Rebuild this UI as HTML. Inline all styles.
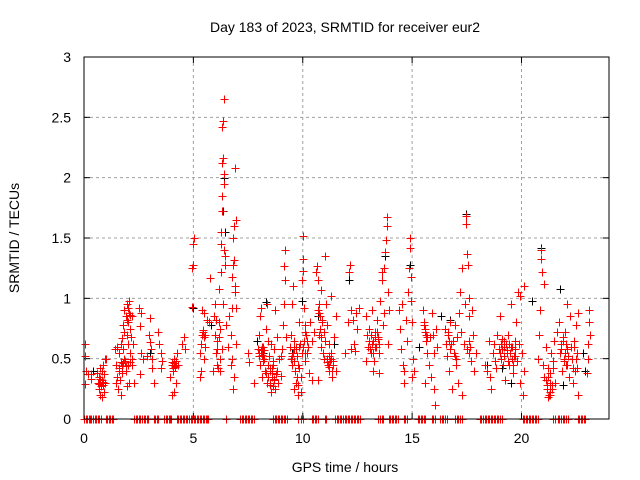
<!DOCTYPE html>
<html><head><meta charset="utf-8"><style>
html,body{margin:0;padding:0;background:#fff;}
svg{display:block;font-family:"Liberation Sans",sans-serif;}
</style></head><body>
<svg id="chart" width="640" height="480" viewBox="0 0 640 480">
<rect width="640" height="480" fill="#fff"/>
<text x="345" y="32" text-anchor="middle" font-size="14" fill="#000">Day 183 of 2023, SRMTID for receiver eur2</text>
<text x="345" y="472" text-anchor="middle" font-size="14" fill="#000">GPS time / hours</text>
<text transform="translate(19,238) rotate(-90)" text-anchor="middle" font-size="14" fill="#000">SRMTID / TECUs</text>
<g id="grid"></g>
<g id="ticks"></g>
<g id="black"></g>
<g id="red"></g>
<rect x="84" y="57" width="525" height="362" fill="none" stroke="#000" stroke-width="1"/>
</svg>
<script>
const xTicks=[0,5,10,15,20];
const yTicks=[0,0.5,1,1.5,2,2.5,3];
const yTickLabels=["0","0.5","1","1.5","2","2.5","3"];
const redT=[0.05,0.05,0.1,0.05,0.2,0.3,0.3,0.6,0.65,0.7,0.7,0.75,0.75,0.8,0.8,0.85,0.85,0.9,0.9,0.95,0.95,1.0,0.7,0.8,
1.4,1.45,1.45,1.5,1.5,1.55,1.6,1.6,1.65,1.7,1.7,1.75,1.75,1.8,1.8,1.85,1.85,1.9,1.9,1.95,1.95,1.95,2.0,2.0,2.0,2.05,2.05,2.05,2.1,2.1,2.15,2.2,2.2,2.25,2.3,
2.5,2.55,2.55,2.6,2.6,2.7,2.9,2.95,3.0,3.0,3.05,3.1,3.1,3.2,3.4,3.45,3.5,3.5,3.55,
3.95,4.0,4.0,4.05,4.1,4.1,4.15,4.2,4.25,4.3,4.2,
4.5,4.55,4.6,4.95,4.95,5.0,5.0,5.05,
5.3,5.35,5.3,5.35,5.4,5.45,5.5,5.5,5.55,5.6,5.7,5.75,5.4,
5.9,5.95,6.0,6.0,6.05,6.1,6.1,6.15,6.15,6.2,6.2,6.25,6.25,6.25,6.3,6.3,6.3,6.3,6.35,6.35,6.4,6.4,6.4,6.4,6.45,6.45,6.5,6.3,6.35,
6.6,6.65,6.7,6.7,6.75,6.75,6.8,6.8,6.85,6.85,6.85,6.9,6.9,6.9,6.95,6.95,6.95,6.8,6.75,
7.5,7.55,7.75,
7.95,8.0,8.0,8.05,8.05,8.1,8.1,8.15,8.15,8.2,8.25,8.3,8.3,8.35,8.35,8.4,8.4,8.45,8.5,8.5,8.55,8.55,8.6,8.65,8.7,8.7,8.75,8.8,8.8,8.85,8.9,9.0,9.05,9.1,9.15,9.15,9.2,9.2,9.25,9.0,
9.4,9.45,9.45,9.5,9.5,9.55,9.55,9.6,9.6,9.65,9.7,9.7,9.75,9.8,9.8,9.85,9.85,9.9,9.9,9.95,9.95,10.0,10.0,10.0,10.05,10.05,10.1,10.1,10.15,10.2,10.25,10.3,10.35,10.4,10.4,10.5,
10.6,10.65,10.7,10.7,10.75,10.75,10.8,10.85,10.85,10.9,10.95,11.0,11.0,11.05,11.1,11.1,11.15,11.2,11.2,11.25,11.3,11.35,11.4,11.45,11.5,11.5,10.7,11.3,
11.95,12.05,12.1,12.15,12.2,12.3,12.35,12.4,12.5,12.55,12.45,12.2,
12.9,12.95,13.0,13.05,13.1,13.15,13.2,13.25,13.3,13.35,13.4,13.45,13.5,13.55,13.6,13.65,13.7,13.75,13.8,13.85,13.85,13.9,13.95,13.9,13.5,13.2,13.6,13.7,12.9,
14.4,14.45,14.5,14.55,14.6,14.65,14.7,14.75,14.8,14.85,14.9,14.9,14.95,15.0,15.0,15.05,15.1,14.65,14.95,
15.5,15.55,15.6,15.65,15.7,15.75,15.8,15.85,15.9,15.95,16.0,16.05,16.0,16.1,16.15,15.6,
16.5,16.55,16.6,16.65,16.7,16.75,16.8,16.85,16.9,16.95,17.0,17.05,17.1,17.15,17.2,17.25,17.3,17.35,17.4,17.45,17.45,17.5,17.55,17.6,17.6,17.65,17.7,17.75,17.8,17.85,17.9,17.3,
18.35,18.4,18.5,18.55,18.6,18.7,18.75,18.8,18.85,18.9,18.95,19.0,19.05,19.1,19.15,19.2,19.25,
19.3,19.35,19.4,19.45,19.5,19.55,19.6,19.65,19.7,19.75,19.8,19.85,19.9,19.95,20.0,20.05,20.1,20.1,19.95,
20.75,20.8,20.85,20.9,20.9,20.95,21.0,21.05,21.1,21.15,21.2,21.25,21.3,21.35,21.4,21.45,21.5,21.55,21.6,21.05,21.3,
21.7,21.75,21.8,21.85,21.9,21.95,22.0,22.05,22.1,22.15,22.2,22.25,22.3,22.35,22.4,22.45,22.5,22.55,22.6,22.6,22.35,22.1,
23.05,23.05,23.1,23.1,23.15,23.0,
0.72,0.78,0.88,1.62,1.72,1.78,1.88,1.92,1.98,2.02,2.08,2.12,2.18,1.68,1.82,
4.08,4.12,4.18,4.02,5.42,5.48,5.52,6.08,6.12,6.18,6.22,6.02,
8.02,8.08,8.12,8.18,8.22,8.28,8.42,8.48,8.52,8.58,8.62,8.68,8.72,8.78,8.58,8.62,
9.52,9.58,9.62,9.68,9.72,9.78,9.82,9.88,10.02,10.08,10.12,10.18,
10.72,10.78,10.82,10.88,10.92,10.98,11.12,11.18,11.22,11.28,11.32,11.38,
13.02,13.08,13.12,13.18,13.22,13.28,13.32,13.38,13.42,13.48,
15.52,15.58,15.62,15.68,16.62,16.68,16.72,16.78,16.98,17.02,17.52,17.58,17.62,
19.02,19.08,19.12,19.18,19.22,19.32,19.38,19.42,19.48,19.52,19.58,19.62,19.68,19.72,
21.12,21.18,21.22,21.28,21.32,21.38,21.42,21.22,21.28,21.32,
21.82,21.88,21.92,21.98,22.02,22.08,22.12,22.42,22.48,22.52];
const redV=[0.62,0.52,0.40,0.29,0.37,0.33,0.37,0.38,0.30,0.35,0.25,0.20,0.42,0.32,0.18,0.28,0.45,0.37,0.22,0.50,0.30,0.50,0.29,0.40,
0.58,0.45,0.30,0.35,0.60,0.25,0.40,0.55,0.32,0.47,0.20,0.67,0.44,0.78,0.58,0.90,0.50,0.85,0.40,0.95,0.70,0.27,0.80,0.62,0.45,0.98,0.88,0.30,0.75,0.55,0.68,0.85,0.50,0.62,0.30,
0.92,0.77,0.37,0.55,0.88,0.50,0.52,0.70,0.84,0.64,0.58,0.42,0.50,0.30,0.72,0.62,0.55,0.42,0.48,
0.35,0.45,0.20,0.40,0.50,0.22,0.43,0.48,0.55,0.45,0.30,
0.62,0.68,0.58,0.93,1.25,1.45,1.28,1.50,
0.35,0.40,0.55,0.62,0.70,0.72,0.88,0.50,0.60,0.82,0.80,1.17,0.90,
0.40,0.85,0.95,0.70,0.55,0.45,0.65,0.80,1.08,0.75,0.50,1.22,1.55,1.45,1.72,1.85,2.12,2.42,2.47,2.16,1.95,2.03,2.65,1.40,1.35,1.28,0.78,0.58,0.95,
0.60,0.85,0.70,0.45,0.50,0.92,1.50,1.28,1.32,1.60,0.35,2.08,1.10,1.05,0.92,1.65,0.62,0.25,1.18,
0.55,0.47,0.30,
0.58,0.52,0.70,0.85,0.45,0.55,0.92,0.60,0.35,0.48,0.57,0.75,0.38,0.95,0.30,0.65,0.45,0.52,0.28,0.40,0.62,0.22,0.35,0.45,0.32,0.58,0.90,0.40,0.68,0.30,0.50,0.52,0.58,0.78,0.95,1.27,1.40,1.15,0.68,0.36,
0.60,0.50,0.70,0.95,0.45,1.10,0.55,0.65,0.25,0.40,0.58,0.30,0.52,0.20,0.45,0.80,0.60,0.35,0.22,0.55,1.15,1.23,1.33,1.52,0.92,0.65,0.78,0.48,0.70,0.55,0.60,0.38,0.80,0.65,0.32,0.72,
1.22,1.27,1.15,0.90,0.95,0.70,0.85,1.07,0.60,0.80,0.72,0.65,1.35,0.95,0.50,0.78,0.45,0.40,0.62,0.48,0.55,0.35,0.45,0.68,0.85,0.40,0.32,1.02,
0.55,0.80,1.22,1.28,0.90,0.82,0.62,0.56,0.75,0.92,0.88,0.58,
0.85,0.70,0.60,0.75,0.55,0.90,0.65,0.48,0.72,0.60,0.82,0.68,0.55,0.98,1.15,0.78,0.88,1.38,1.48,1.67,1.60,1.05,0.90,0.62,0.38,0.40,1.22,1.25,0.48,
0.90,0.75,0.58,0.95,0.45,0.30,0.82,0.65,1.05,1.25,1.50,1.42,1.18,0.80,0.35,0.50,0.40,0.40,0.98,
0.90,0.80,0.72,0.65,0.55,0.45,0.68,0.35,0.88,0.70,0.25,0.12,0.55,0.75,0.60,0.30,
0.75,0.62,0.52,0.70,0.40,0.80,0.25,0.65,0.55,0.78,0.45,0.68,0.30,0.88,1.05,0.72,1.25,0.62,0.95,1.62,1.68,1.37,1.28,1.00,0.85,0.60,0.48,0.90,0.70,0.40,0.55,0.20,
0.45,0.40,0.65,0.35,0.25,0.55,0.62,0.48,0.42,0.70,0.58,0.85,0.50,0.66,0.45,0.60,0.32,
0.62,0.55,0.70,0.45,0.95,0.60,0.38,0.52,0.65,0.80,0.48,1.05,0.62,0.30,0.55,0.20,0.40,1.10,1.02,
0.50,0.70,0.90,1.40,1.33,1.22,0.45,0.35,0.60,0.28,0.42,0.20,0.38,0.55,0.25,0.48,0.65,0.30,0.72,1.12,0.20,
0.80,0.55,0.62,0.40,0.68,0.50,0.72,0.45,0.58,0.35,0.85,0.60,0.50,0.30,0.65,0.40,0.78,0.55,0.88,0.20,0.42,0.95,
0.62,0.50,0.80,0.90,0.70,0.38,
0.33,0.27,0.31,0.42,0.38,0.46,0.48,0.44,0.82,0.92,0.86,0.47,0.45,0.62,0.72,
0.42,0.46,0.44,0.47,0.74,0.68,0.70,0.58,0.42,0.68,0.40,0.82,
0.55,0.57,0.53,0.60,0.50,0.40,0.35,0.42,0.30,0.38,0.27,0.33,0.25,0.37,0.42,0.48,
0.52,0.58,0.48,0.60,0.35,0.28,0.42,0.62,0.60,0.55,0.72,0.65,
0.88,0.75,0.68,0.82,0.55,0.50,0.47,0.52,0.43,0.50,0.40,0.48,
0.65,0.58,0.70,0.62,0.55,0.68,0.60,0.72,0.66,0.62,
0.78,0.75,0.70,0.68,0.72,0.65,0.58,0.62,0.52,0.50,0.58,0.65,0.55,
0.55,0.62,0.58,0.52,0.65,0.57,0.48,0.62,0.55,0.60,0.50,0.45,0.58,0.52,
0.32,0.25,0.35,0.22,0.30,0.28,0.42,0.18,0.25,0.20,
0.58,0.65,0.48,0.55,0.62,0.45,0.52,0.60,0.50,0.42];
const zeroT=[0.0,0.07,0.14,0.21,0.28,0.34,0.42,0.49,0.56,0.63,0.7,0.76,1.0,1.07,1.14,1.2,1.27,1.34,
2.3,2.37,2.44,2.51,2.58,2.64,2.72,2.8,2.88,2.94,3.18,3.25,3.33,3.4,3.66,3.73,3.8,3.87,3.93,3.99,
4.24,4.31,4.38,4.45,4.52,4.59,4.66,4.73,4.8,4.87,4.94,5.01,5.08,5.15,5.22,5.29,5.36,5.43,5.5,5.57,5.64,5.69,
6.49,7.13,7.2,7.27,7.34,7.41,7.48,7.55,7.62,7.7,7.77,8.65,8.72,8.79,8.86,8.93,9.0,9.07,9.14,9.2,9.26,
9.8,9.9,10.0,10.41,10.48,10.55,10.62,10.71,11.0,11.05,11.48,11.55,11.62,11.7,11.77,11.84,11.91,11.98,12.05,12.12,12.19,12.26,12.33,12.4,12.47,12.54,12.62,
13.46,13.53,13.6,13.69,13.92,13.99,14.06,14.13,14.2,14.27,14.37,14.63,14.69,14.75,15.26,15.33,15.4,15.47,15.54,15.6,15.9,15.97,16.05,16.28,16.35,16.42,16.5,16.58,
16.96,17.03,17.1,17.17,17.27,18.1,18.17,18.24,18.31,18.38,18.45,18.52,18.59,18.66,18.73,18.8,18.87,18.94,19.01,19.1,
20.05,20.12,20.19,20.26,20.33,20.4,20.47,20.54,20.61,20.68,20.77,21.46,21.55,21.65,21.72,21.8,21.88,21.95,22.05,22.14,22.56,22.63,22.7,22.77,22.84,22.91];
const blackT=[6.4,6.35,6.45,17.45,20.9,14.9,9.95,10.7,8.3,9.5,11.45,12.1,13.75,16.3,18.4,19.5,20.5,21.75,22.8,22.9,5.0,5.8,0.4,7.9,8.2,19.1,21.9,16.75,15.3,3.0];
const blackV=[2.0,1.72,1.55,1.70,1.42,1.28,0.98,0.85,0.97,0.55,0.62,1.15,1.35,0.85,0.45,0.30,0.98,1.08,0.55,0.40,0.92,0.78,0.40,0.65,0.55,0.42,0.28,0.82,0.60,0.55];

const X0=84,X1=609,Y0=419,Y1=57,XMAX=24,YMAX=3;
function sx(t){return X0+(X1-X0)*t/XMAX;}
function sy(v){return Y0-(Y0-Y1)*v/YMAX;}
const NS="http://www.w3.org/2000/svg";
function mk(tag,attrs,parent){const e=document.createElementNS(NS,tag);for(const k in attrs)e.setAttribute(k,attrs[k]);parent.appendChild(e);return e;}
const grid=document.getElementById('grid'),ticks=document.getElementById('ticks');
xTicks.forEach((t,i)=>{
  const x=sx(t);
  if(t>0){const g=mk('line',{x1:x,x2:x,y1:Y1,y2:Y0,stroke:'#a0a0a0','stroke-dasharray':'3,3'},grid);
  
  }
  mk('line',{x1:x,x2:x,y1:Y0,y2:Y0-6,stroke:'#000'},ticks);
  mk('line',{x1:x,x2:x,y1:Y1,y2:Y1+6,stroke:'#000'},ticks);
  const l=mk('text',{x:x,y:443,'text-anchor':'middle','font-size':'14',fill:'#000'},ticks);
  l.textContent=String(t);
  
  
});
yTicks.forEach((v,i)=>{
  const y=sy(v);
  if(v>0&&v<YMAX){const g=mk('line',{x1:X0,x2:X1,y1:y,y2:y,stroke:'#a0a0a0','stroke-dasharray':'3,3'},grid);
  
  }
  mk('line',{x1:X0,x2:X0+6,y1:y,y2:y,stroke:'#000'},ticks);
  mk('line',{x1:X1,x2:X1-6,y1:y,y2:y,stroke:'#000'},ticks);
  const l=mk('text',{x:71,y:y+5,'text-anchor':'end','font-size':'14',fill:'#000'},ticks);
  l.textContent=yTickLabels[i];
  
  
});
function plus(g,t,v,color){
  const x=Math.round(sx(t))+0.5,y=Math.round(sy(v))+0.5;
  const p=mk('path',{d:`M${x-4},${y}H${x+4}M${x},${y-4}V${y+4}`,stroke:color,'stroke-width':'1',fill:'none'},g);
  
  
}
const gb=document.getElementById('black'),gr=document.getElementById('red');
blackT.forEach((t,i)=>plus(gb,t,blackV[i],'#000'));
zeroT.forEach(t=>plus(gr,t,0,'#f00'));
redT.forEach((t,i)=>plus(gr,t,redV[i],'#f00'));
</script>
</body></html>
